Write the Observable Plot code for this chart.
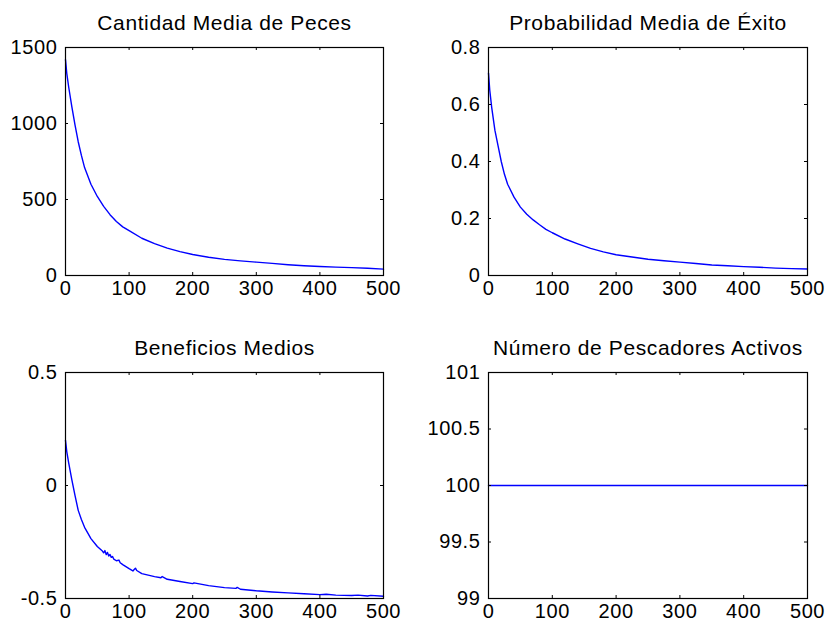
<!DOCTYPE html>
<html>
<head>
<meta charset="utf-8">
<script src="https://cdn.jsdelivr.net/npm/d3@7"></script>
<script src="https://cdn.jsdelivr.net/npm/@observablehq/plot@0.6"></script>
<style>
  html, body { margin: 0; padding: 0; background: #fff; }
  body { width: 825px; height: 626px; overflow: hidden; position: relative; }
  .panel { position: absolute; }
</style>
</head>
<body>
<div id="p1" class="panel" style="left:0px;top:0px"></div>
<div id="p2" class="panel" style="left:412px;top:0px"></div>
<div id="p3" class="panel" style="left:0px;top:313px"></div>
<div id="p4" class="panel" style="left:412px;top:313px"></div>
<script>
// ---- Data ----
const titles = [
  "Cantidad Media de Peces",
  "Probabilidad Media de Éxito",
  "Beneficios Medios",
  "Número de Pescadores Activos"
];
const xTicks = [0, 100, 200, 300, 400, 500];

const steps = [0, 2, 5, 10, 15, 20, 25, 30, 40, 50, 60, 70, 80, 90, 100, 120, 140, 160, 180, 200,
               225, 250, 275, 300, 325, 350, 375, 400, 425, 450, 475, 500];

const fishValues = [1420, 1330, 1240, 1110, 990, 880, 790, 710, 600, 520, 455, 400, 355, 320, 295, 245,
                    210, 180, 157, 138, 120, 106, 96, 88, 80, 71, 64, 59, 55, 52, 48, 42];
const fishTicks = [0, 500, 1000, 1500];

const probValues = [0.71, 0.65, 0.59, 0.51, 0.455, 0.40, 0.355, 0.32, 0.275, 0.24, 0.215, 0.195, 0.178,
                    0.162, 0.15, 0.128, 0.111, 0.095, 0.083, 0.073, 0.065, 0.057, 0.052, 0.047, 0.042,
                    0.037, 0.034, 0.031, 0.029, 0.026, 0.024, 0.023];
const probTicks = [0, 0.2, 0.4, 0.6, 0.8];

const benefitSteps = [0, 2, 5, 10, 15, 20, 25, 30, 40, 50, 58, 60, 62, 64, 66, 68, 70, 72, 74, 76, 80, 84,
                      86, 90, 100, 106, 108, 110, 112, 120, 140, 150, 152, 160, 180, 200, 202, 225, 250,
                      268, 270, 275, 300, 325, 350, 375, 400, 410, 425, 450, 460, 475, 480, 500];
const benefitValues = [0.20, 0.15, 0.10, 0.025, -0.045, -0.11, -0.15, -0.185, -0.235, -0.27, -0.29,
                       -0.298, -0.288, -0.306, -0.296, -0.312, -0.305, -0.318, -0.314, -0.326, -0.333, -0.33,
                       -0.342, -0.35, -0.368, -0.378, -0.372, -0.366, -0.376, -0.39, -0.403, -0.408, -0.403,
                       -0.415, -0.425, -0.434, -0.431, -0.443, -0.452, -0.455, -0.451, -0.459, -0.466,
                       -0.471, -0.475, -0.479, -0.483, -0.481, -0.485, -0.487, -0.485, -0.489, -0.486, -0.490];
const benefitTicks = [-0.5, 0, 0.5];

const activeSteps = [0, 500];
const activeValues = [100, 100];
const activeTicks = [99, 99.5, 100, 100.5, 101];

// ---- Drawing ----
const FONT = "Arial, 'Liberation Sans', Helvetica, sans-serif";

function panel({el, title, xs, ys, yDomain, yTicks, width, height, ml, mr, mt, mb}) {
  const data = xs.map((x, i) => ({x, y: ys[i]}));
  const iw = width - ml - mr, ih = height - mt - mb;
  const chart = Plot.plot({
    width, height,
    marginLeft: ml, marginRight: mr, marginTop: mt, marginBottom: mb,
    style: {fontFamily: FONT, fontSize: "20px", color: "#000", background: "#fff", letterSpacing: "0.6px"},
    x: {domain: [0, 500], ticks: xTicks, tickSize: 0, tickPadding: 5, label: null, tickFormat: d => String(d)},
    y: {domain: yDomain, ticks: yTicks, tickSize: 0, tickPadding: 8, label: null, tickFormat: d => String(d)},
    marks: [
      Plot.line(data, {x: "x", y: "y", stroke: "#0000ff", strokeWidth: 1.4}),
      Plot.tickX(xTicks, {x: d => d, insetTop: ih - 3, stroke: "#000"}),
      Plot.tickX(xTicks, {x: d => d, insetBottom: ih - 3, stroke: "#000"}),
      Plot.tickY(yTicks, {y: d => d, insetRight: iw - 3, stroke: "#000"}),
      Plot.tickY(yTicks, {y: d => d, insetLeft: iw - 3, stroke: "#000"}),
      Plot.frame({stroke: "#000", strokeWidth: 1.2}),
      Plot.text([title], {frameAnchor: "top", lineAnchor: "bottom", dy: -18, fontSize: 21, fill: "#000"})
    ]
  });
  document.getElementById(el).appendChild(chart);
}

panel({el: "p1", title: titles[0], xs: steps, ys: fishValues, yDomain: [0, 1500], yTicks: fishTicks,
       width: 412, height: 313, ml: 65, mr: 29, mt: 47, mb: 38});
panel({el: "p2", title: titles[1], xs: steps, ys: probValues, yDomain: [0, 0.8], yTicks: probTicks,
       width: 413, height: 313, ml: 76, mr: 18, mt: 47, mb: 38});
panel({el: "p3", title: titles[2], xs: benefitSteps, ys: benefitValues, yDomain: [-0.5, 0.5], yTicks: benefitTicks,
       width: 412, height: 313, ml: 65, mr: 29, mt: 59, mb: 28});
panel({el: "p4", title: titles[3], xs: activeSteps, ys: activeValues, yDomain: [99, 101], yTicks: activeTicks,
       width: 413, height: 313, ml: 76, mr: 18, mt: 59, mb: 28});
</script>
</body>
</html>
